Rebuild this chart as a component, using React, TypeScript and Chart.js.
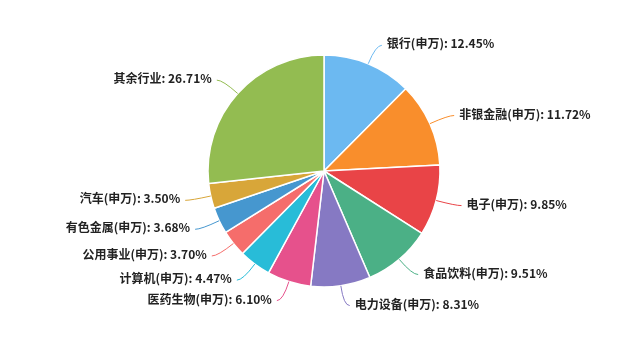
import React, { useEffect, useRef } from "react";
import { Chart, registerables } from "chart.js";

Chart.register(...registerables);

const categories = [
  "银行(申万)",
  "非银金融(申万)",
  "电子(申万)",
  "食品饮料(申万)",
  "电力设备(申万)",
  "医药生物(申万)",
  "计算机(申万)",
  "公用事业(申万)",
  "有色金属(申万)",
  "汽车(申万)",
  "其余行业",
];

const values = [12.45, 11.72, 9.85, 9.51, 8.31, 6.1, 4.47, 3.7, 3.68, 3.5, 26.71];

const colors = [
  "#6cb9f1",
  "#f98e2c",
  "#e94447",
  "#4bb086",
  "#8679c3",
  "#e6518c",
  "#28bcd8",
  "#f56d6b",
  "#4697cf",
  "#d8a639",
  "#93bc51",
];

const FONT = '"Noto Sans CJK SC", "Noto Sans", sans-serif';

const labelPlugin = {
  id: "pieLabels",
  afterDatasetsDraw(chart: any) {
    const ctx = chart.ctx as CanvasRenderingContext2D;
    const meta = chart.getDatasetMeta(0);
    const len1 = 20;
    const len2 = 6;
    const gap = 5;
    ctx.save();
    meta.data.forEach((arc: any, i: number) => {
      const { x, y, startAngle, endAngle, outerRadius } = arc.getProps(
        ["x", "y", "startAngle", "endAngle", "outerRadius"],
        true
      );
      const mid = (startAngle + endAngle) / 2;
      const c = Math.cos(mid);
      const s = Math.sin(mid);
      const p0x = x + outerRadius * c;
      const p0y = y + outerRadius * s;
      const p1x = x + (outerRadius + len1) * c;
      const p1y = y + (outerRadius + len1) * s;
      const right = c >= 0;
      const p2x = p1x + (right ? len2 : -len2);
      const p2y = p1y;
      ctx.beginPath();
      ctx.moveTo(p0x, p0y);
      ctx.quadraticCurveTo(p1x, p1y, p2x, p2y);
      ctx.strokeStyle = colors[i];
      ctx.lineWidth = 1;
      ctx.stroke();
      const text = `${categories[i]}: ${values[i].toFixed(2)}%`;
      ctx.font = `bold 12px ${FONT}`;
      ctx.fillStyle = "#222";
      ctx.textBaseline = "middle";
      ctx.textAlign = right ? "left" : "right";
      ctx.fillText(text, p2x + (right ? gap : -gap), p2y - 1.5);
    });
    ctx.restore();
  },
};

export default function App() {
  const ref = useRef<HTMLCanvasElement | null>(null);
  useEffect(() => {
    if (!ref.current) return;
    const chart = new Chart(ref.current, {
      type: "pie",
      data: {
        labels: categories,
        datasets: [
          {
            data: values,
            backgroundColor: colors,
            borderColor: "#ffffff",
            borderWidth: 1.5,
          },
        ],
      },
      options: {
        animation: false,
        responsive: false,
        maintainAspectRatio: false,
        radius: 116,
        layout: { padding: { left: 208, right: 198, top: 55, bottom: 51 } },
        plugins: {
          legend: { display: false },
          tooltip: { enabled: false },
        },
      },
      plugins: [labelPlugin],
    });
    return () => chart.destroy();
  }, []);
  return (
    <div
      style={{
        position: "fixed",
        left: 0,
        top: 0,
        width: 638,
        height: 338,
        background: "#fff",
      }}
    >
      <canvas ref={ref} width={638} height={338} style={{ width: 638, height: 338 }} />
    </div>
  );
}
